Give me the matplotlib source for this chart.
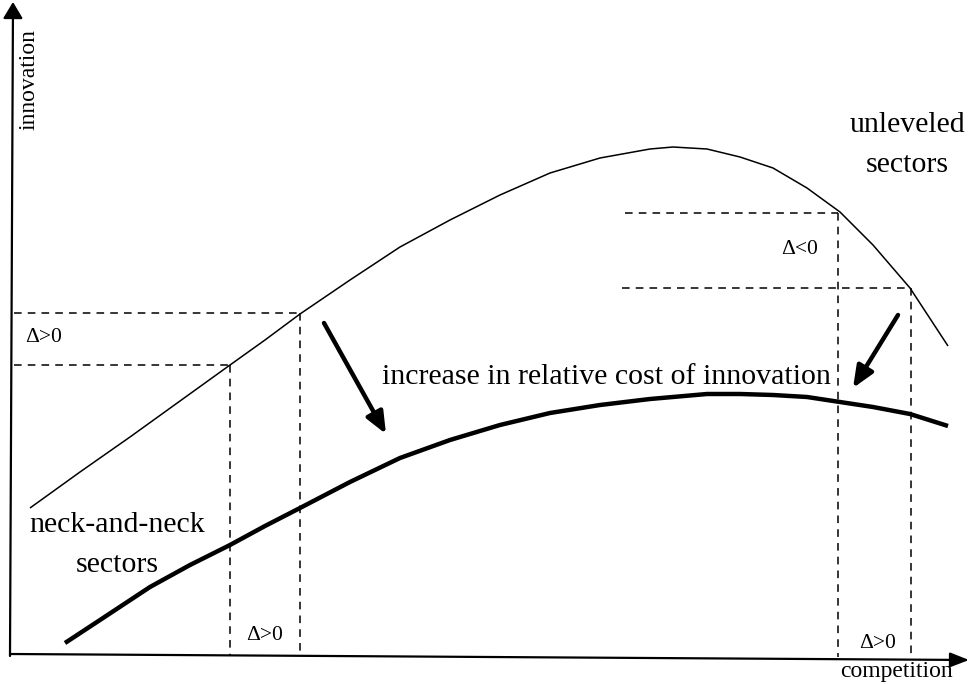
import matplotlib
matplotlib.use("Agg")
import matplotlib.pyplot as plt

# Curve points (x = competition, y = innovation), in image units
upper_x = [30, 80, 130, 180, 230, 265, 300, 350, 400, 450, 500, 550, 600, 650, 673,
           707, 740, 773, 807, 840, 873, 910, 948]
upper_y = [508, 472, 437, 401, 365, 340, 314, 280, 247, 220, 195, 173, 158, 149, 147,
           149, 157, 168, 188, 212, 245, 288, 346]
lower_x = [65, 100, 150, 190, 230, 265, 300, 350, 400, 450, 500, 550, 600, 650, 707,
           740, 773, 807, 840, 873, 910, 948]
lower_y = [643, 620, 587, 565, 545, 526, 508, 482, 458, 440, 425, 413, 405, 399, 394,
           394, 395, 397, 402, 407, 414, 426]

# Reference levels (dashed guides)
left_levels_y = [313, 365]
left_levels_x = [300, 230]
right_levels_y = [213, 288]
right_levels_x = [838, 911]
right_levels_start = [625, 622]

# Labels
delta_labels = ["Δ>0", "Δ<0", "Δ>0", "Δ>0"]
delta_pos = [(25, 338), (781, 250), (246, 636), (859, 644)]

fig = plt.figure(figsize=(9.70, 6.84), dpi=100)
ax = fig.add_axes([0, 0, 1, 1])
ax.set_xlim(0, 970)
ax.set_ylim(684, 0)
ax.axis("off")

font = "Liberation Serif"

# axes with arrows
ax.annotate("", xy=(13, 2), xytext=(10, 656),
            arrowprops=dict(arrowstyle="-|>,head_length=1.0,head_width=0.6", lw=1.6, color="black",
                            shrinkA=0, shrinkB=0))
ax.annotate("", xy=(969, 660), xytext=(10, 654),
            arrowprops=dict(arrowstyle="-|>,head_length=1.15,head_width=0.45", lw=1.6, color="black",
                            shrinkA=0, shrinkB=0))

# curves
ax.plot(upper_x, upper_y, color="black", lw=1.1, solid_capstyle="butt", solid_joinstyle="round")
ax.plot(lower_x, lower_y, color="black", lw=3.2, solid_capstyle="butt", solid_joinstyle="round")

dash = dict(color="black", lw=1.1, linestyle=(0, (5, 4)))
for yl, xl in zip(left_levels_y, left_levels_x):
    ax.plot([14, xl], [yl, yl], **dash)
    ax.plot([xl, xl], [yl, 655], **dash)
for yl, xl, xs in zip(right_levels_y, right_levels_x, right_levels_start):
    ax.plot([xs, xl], [yl, yl], **dash)
    ax.plot([xl, xl], [yl, 657], **dash)

# shift arrows
arrow_kw = dict(arrowstyle="-|>,head_length=1.3,head_width=0.55", lw=3.2, color="black",
                shrinkA=0, shrinkB=0)
ax.annotate("", xy=(386, 434), xytext=(324, 323), arrowprops=arrow_kw)
ax.annotate("", xy=(853, 388), xytext=(898, 315), arrowprops=arrow_kw)

# texts
ax.text(29, 80, "innovation", rotation=90, ha="center", va="center", fontsize=17, family=font)
ax.text(896, 671, "competition", ha="center", va="center", fontsize=17, family=font)
ax.text(907, 145, "unleveled\nsectors", ha="center", va="center", fontsize=21.5, family=font,
        linespacing=1.7)
ax.text(117, 545, "neck-and-neck\nsectors", ha="center", va="center", fontsize=21.5, family=font,
        linespacing=1.7)
ax.text(606, 377, "increase in relative cost of innovation", ha="center", va="center",
        fontsize=21.5, family=font)
for lbl, (px, py) in zip(delta_labels, delta_pos):
    ax.text(px, py, lbl, ha="left", va="center", fontsize=15.5, family=font)

fig.savefig("out.png", dpi=100)
